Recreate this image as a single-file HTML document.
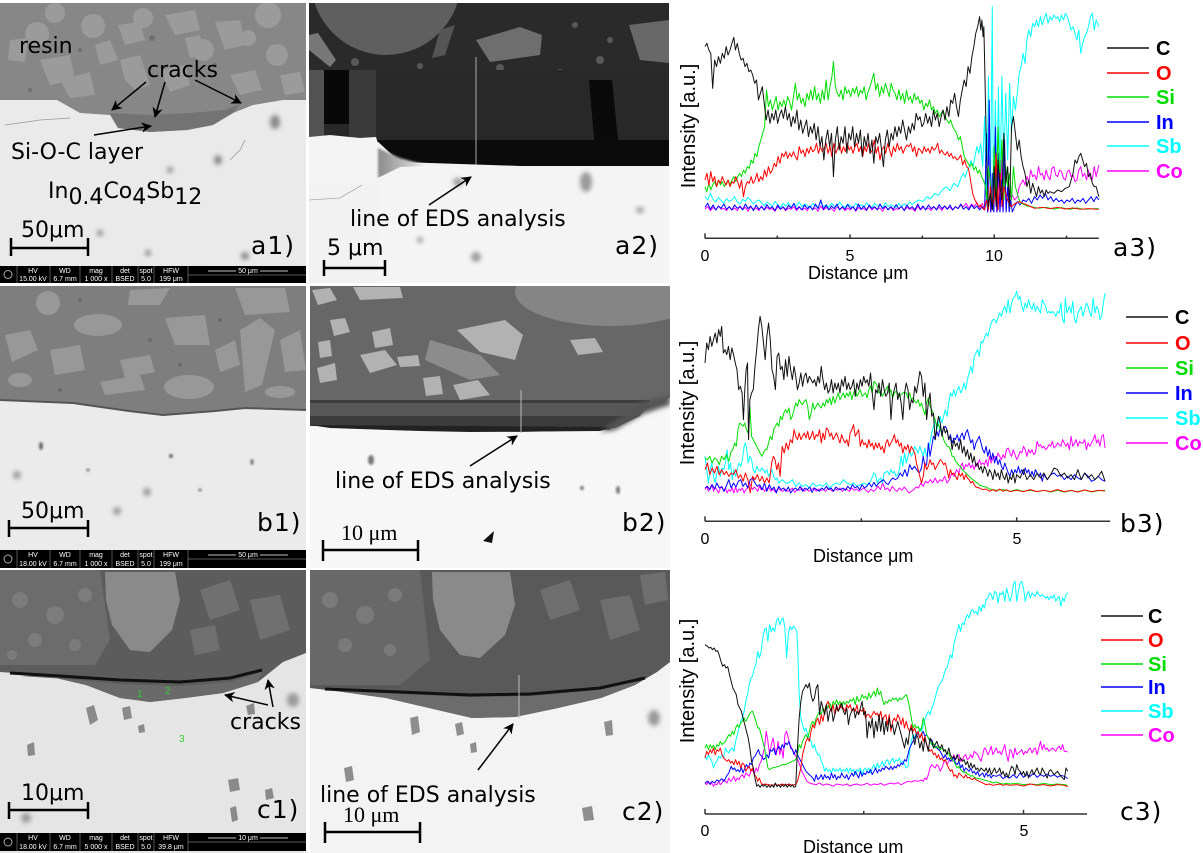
<!DOCTYPE html>
<html><head><meta charset="utf-8"><style>
html,body{margin:0;padding:0;background:#fff;}
svg{display:block;}
.lab{font-family:"DejaVu Sans","Liberation Sans",sans-serif;font-size:22px;fill:#000;}
.pl{font-family:"DejaVu Sans","Liberation Sans",sans-serif;font-size:25px;fill:#000;letter-spacing:1px;}
.ib{font-family:"Liberation Sans",sans-serif;font-size:7px;fill:#fff;text-anchor:middle;}
.ax{font-family:"Liberation Sans",sans-serif;fill:#000;}
.lg{font-family:"Liberation Sans",sans-serif;font-size:20px;font-weight:bold;}
.d{fill:none;stroke-width:1;vector-effect:non-scaling-stroke;stroke-linejoin:round;}
</style></head><body>
<svg width="1203" height="853" viewBox="0 0 1203 853" xmlns="http://www.w3.org/2000/svg">
<defs>
<filter id="bl" x="-50%" y="-50%" width="200%" height="200%"><feGaussianBlur stdDeviation="2.5"/></filter>
<filter id="bl1" x="-50%" y="-50%" width="200%" height="200%"><feGaussianBlur stdDeviation="1"/></filter>
<filter id="bl5" x="-50%" y="-50%" width="200%" height="200%"><feGaussianBlur stdDeviation="5"/></filter>
<linearGradient id="wg" x1="0" y1="0" x2="1" y2="0"><stop offset="0" stop-color="#8a8a8a"/><stop offset="1" stop-color="#e8e8e8"/></linearGradient>
<marker id="ah" viewBox="0 0 10 10" refX="9" refY="5" markerWidth="7" markerHeight="7" orient="auto-start-reverse"><path d="M0,0 L10,5 L0,10 L3,5 z" fill="#000"/></marker>
<clipPath id="ca1"><rect x="0" y="3" width="306" height="280"/></clipPath>
<clipPath id="ca2"><rect x="309" y="3" width="360" height="280"/></clipPath>
<clipPath id="cb1"><rect x="0" y="286" width="306" height="282"/></clipPath>
<clipPath id="cb2"><rect x="310" y="286" width="360" height="282"/></clipPath>
<clipPath id="cc1"><rect x="0" y="570" width="306" height="283"/></clipPath>
<clipPath id="cc2"><rect x="310" y="570" width="360" height="283"/></clipPath>
</defs>
<rect width="1203" height="853" fill="#fff"/>

<!-- ============ a1 ============ -->
<g clip-path="url(#ca1)">
<rect x="0" y="0" width="306" height="283" fill="#eaeaea"/>
<polygon points="0,0 306,0 306,100 283,100 253,105 233,113 213,125 187,130 150,132 118,128 110,115 80,113 57,100 0,100" fill="#878787"/>
<polygon points="110,113 150,115 190,113 225,110 240,104 233,113 213,125 187,130 150,132 118,128" fill="#737373"/>
<g fill="#9b9b9b">
<circle cx="55" cy="13" r="10"/><circle cx="93" cy="26" r="12"/><circle cx="37" cy="34" r="12"/>
<circle cx="203" cy="50" r="11"/><circle cx="277" cy="55" r="11"/><circle cx="268" cy="15" r="13"/>
<circle cx="143" cy="18" r="10"/><circle cx="248" cy="38" r="8"/>
<polygon points="118,25 140,22 145,40 125,45"/><polygon points="165,15 195,10 200,30 175,35"/>
<polygon points="215,22 240,20 245,45 225,50"/><polygon points="40,60 70,55 75,80 50,85"/>
<polygon points="120,60 140,55 150,85 135,90 125,80"/><polygon points="60,80 90,72 95,95 70,98"/>
<polygon points="160,70 185,65 190,85 170,92"/><polygon points="230,75 255,70 262,90 240,95"/>
<polygon points="280,75 300,72 305,92 285,95"/><polygon points="10,40 28,38 25,62 8,60"/>
<polygon points="95,45 110,40 118,60 100,65"/><polygon points="185,38 200,35 205,55 190,58"/>
</g>
<g fill="#6f6f6f"><circle cx="152" cy="38" r="3"/><circle cx="80" cy="50" r="2"/><circle cx="215" cy="65" r="2"/><circle cx="30" cy="90" r="2"/></g>
<g fill="#888" filter="url(#bl)"><ellipse cx="275" cy="122" rx="5" ry="7"/><ellipse cx="218" cy="160" rx="4" ry="5"/><ellipse cx="148" cy="253" rx="3" ry="3"/><ellipse cx="245" cy="256" rx="4" ry="4"/><ellipse cx="100" cy="233" rx="3" ry="3"/><ellipse cx="170" cy="170" rx="3" ry="3"/></g>
<polyline points="5,125 40,120 70,118" fill="none" stroke="#999" stroke-width="0.8"/>
<polyline points="230,160 240,150 245,140" fill="none" stroke="#999" stroke-width="0.8"/>
</g>
<text class="lab" x="19" y="53">resin</text>
<text class="lab" x="147" y="77">cracks</text>
<text class="lab" x="11" y="159">Si-O-C layer</text>
<text class="lab" x="48" y="198">In<tspan dy="6">0.4</tspan><tspan dy="-6">Co</tspan><tspan dy="6">4</tspan><tspan dy="-6">Sb</tspan><tspan dy="6">12</tspan></text>
<g stroke="#000" stroke-width="1.5" fill="none" marker-end="url(#ah)">
<line x1="146" y1="82" x2="112" y2="110"/>
<line x1="165" y1="82" x2="155" y2="117"/>
<line x1="195" y1="80" x2="241" y2="103"/>
<line x1="94" y1="135" x2="151" y2="126"/>
</g>
<text class="lab" x="21" y="237">50μm</text>
<g stroke="#000" stroke-width="2.5"><line x1="11" y1="248" x2="88" y2="248"/><line x1="11" y1="238" x2="11" y2="256"/><line x1="88" y1="238" x2="88" y2="256"/></g>
<text class="pl" x="251" y="254">a1)</text>
<!-- info bar a1 -->
<g>
<rect x="0" y="266" width="306" height="17" fill="#000"/>
<g stroke="#777" stroke-width="0.7"><line x1="17" y1="266" x2="17" y2="283"/><line x1="50" y1="266" x2="50" y2="283"/><line x1="80" y1="266" x2="80" y2="283"/><line x1="112" y1="266" x2="112" y2="283"/><line x1="138" y1="266" x2="138" y2="283"/><line x1="154" y1="266" x2="154" y2="283"/><line x1="188" y1="266" x2="188" y2="283"/><line x1="188" y1="275" x2="306" y2="275"/></g>
<circle cx="8" cy="274.5" r="4" fill="none" stroke="#aaa" stroke-width="1"/>
<text class="ib" x="33" y="273">HV</text><text class="ib" x="33" y="281">15.00 kV</text>
<text class="ib" x="65" y="273">WD</text><text class="ib" x="65" y="281">6.7 mm</text>
<text class="ib" x="96" y="273">mag</text><text class="ib" x="96" y="281">1 000 x</text>
<text class="ib" x="125" y="273">det</text><text class="ib" x="125" y="281">BSED</text>
<text class="ib" x="146" y="273">spot</text><text class="ib" x="146" y="281">5.0</text>
<text class="ib" x="171" y="273">HFW</text><text class="ib" x="171" y="281">199 μm</text>
<line x1="208" y1="271" x2="288" y2="271" stroke="#fff" stroke-width="0.8"/><rect x="236" y="267" width="24" height="7" fill="#000"/><text class="ib" x="248" y="273">50 μm</text>
</g>

<!-- ============ a2 ============ -->
<g clip-path="url(#ca2)">
<rect x="309" y="0" width="360" height="283" fill="#f2f2f2"/>
<rect x="309" y="0" width="360" height="72" fill="#2a2a2a"/>
<circle cx="386" cy="-20" r="75" fill="#5f5f5f"/>
<polygon points="476,40 520,27 542,35 540,55 490,62" fill="#6e6e6e"/>
<polygon points="629,25 669,20 669,63 640,60" fill="#686868"/>
<polygon points="309,35 318,33 336,60 330,67 309,50" fill="#777"/>
<polygon points="440,30 455,25 445,55 432,58" fill="#555"/>
<g fill="#585858"><circle cx="500" cy="68" r="4"/><circle cx="560" cy="72" r="3"/><circle cx="600" cy="60" r="4"/><circle cx="355" cy="62" r="4"/><circle cx="420" cy="66" r="3"/><circle cx="575" cy="25" r="3"/><circle cx="610" cy="40" r="3"/></g>
<rect x="309" y="70" width="360" height="72" fill="#282828"/>
<rect x="309" y="70" width="15" height="70" fill="#525252"/>
<rect x="349" y="70" width="27" height="68" fill="#3a3a3a"/>
<rect x="324" y="70" width="25" height="54" fill="#080808"/>
<polygon points="589,80 612,80 619,150 595,150" fill="#0a0a0a"/>
<polygon points="376,140 669,140 669,166 520,166 460,164 400,162" fill="#0b0b0b"/>
<polygon points="309,137 330,135 360,138 376,137 380,150 378,183 309,183" fill="#f4f4f4"/>
<polygon points="378,148 400,158 425,165 378,178" fill="url(#wg)" filter="url(#bl1)"/>
<polygon points="378,178 400,167 460,165 520,166 669,166 669,283 378,283" fill="#f4f4f4"/>
<g fill="#9a9a9a" filter="url(#bl)"><ellipse cx="458" cy="182" rx="5" ry="4"/><ellipse cx="586" cy="182" rx="6" ry="10"/><ellipse cx="476" cy="257" rx="5" ry="5"/><ellipse cx="420" cy="240" rx="3" ry="3"/><ellipse cx="640" cy="210" rx="4" ry="3"/></g>
<polyline points="309,200 340,198 362,185" fill="none" stroke="#aaa" stroke-width="0.8"/>
<line x1="476" y1="57" x2="476" y2="165" stroke="#aaa" stroke-width="1"/>
</g>
<text class="lab" x="350" y="226">line of EDS analysis</text>
<line x1="429" y1="205" x2="471" y2="177" stroke="#000" stroke-width="1.5" marker-end="url(#ah)"/>
<text class="lab" x="327" y="255">5 μm</text>
<g stroke="#000" stroke-width="2.5"><line x1="324" y1="268" x2="385" y2="268"/><line x1="324" y1="260" x2="324" y2="276"/><line x1="385" y1="260" x2="385" y2="276"/></g>
<text class="pl" x="615" y="254">a2)</text>

<!-- ============ b1 ============ -->
<g clip-path="url(#cb1)">
<rect x="0" y="286" width="306" height="282" fill="#ebebeb"/>
<polygon points="0,286 306,286 306,410 245,408 215,411 163,415 129,411 73,403 0,400" fill="#7e7e7e"/>
<g fill="#989898">
<ellipse cx="98" cy="325" rx="24" ry="11"/><ellipse cx="189" cy="387" rx="25" ry="12"/><ellipse cx="48" cy="303" rx="12" ry="12"/>
<polygon points="240,330 260,318 275,330 262,385 245,392"/><polygon points="165,318 205,315 210,345 175,345"/>
<polygon points="235,288 285,288 290,312 245,315"/><polygon points="5,335 30,330 38,350 12,362"/>
<polygon points="50,350 80,345 85,370 55,375"/><polygon points="120,360 150,355 155,372 125,378"/>
<polygon points="100,382 140,375 145,390 105,395"/><polygon points="280,340 300,330 306,370 285,372"/>
<polygon points="130,290 170,288 160,305 128,305"/><polygon points="215,350 235,340 240,365 220,372"/>
<ellipse cx="280" cy="392" rx="15" ry="6"/><ellipse cx="20" cy="380" rx="12" ry="7"/>
</g>
<g fill="#6a6a6a"><circle cx="80" cy="300" r="2"/><circle cx="150" cy="340" r="2"/><circle cx="220" cy="320" r="2"/><circle cx="60" cy="390" r="2"/><circle cx="180" cy="365" r="2"/></g>
<polyline points="0,400 73,403 129,411 163,415 215,411 245,408 306,410" fill="none" stroke="#555" stroke-width="2"/>
<g fill="#666" filter="url(#bl1)"><ellipse cx="41" cy="446" rx="2" ry="4"/><ellipse cx="171" cy="456" rx="2" ry="2"/><ellipse cx="252" cy="462" rx="1.5" ry="3"/><ellipse cx="88" cy="470" rx="1.5" ry="1.5"/><ellipse cx="200" cy="490" rx="1.5" ry="1.5"/></g>
<g fill="#999" filter="url(#bl)"><ellipse cx="17" cy="475" rx="4" ry="4"/><ellipse cx="147" cy="492" rx="4" ry="4"/><ellipse cx="117" cy="511" rx="4" ry="4"/></g>
</g>
<text class="lab" x="21" y="518">50μm</text>
<g stroke="#000" stroke-width="2.5"><line x1="9" y1="528" x2="88" y2="528"/><line x1="9" y1="520" x2="9" y2="537"/><line x1="88" y1="520" x2="88" y2="537"/></g>
<text class="pl" x="257" y="531">b1)</text>
<g>
<rect x="0" y="550" width="306" height="18" fill="#000"/>
<g stroke="#777" stroke-width="0.7"><line x1="17" y1="550" x2="17" y2="568"/><line x1="50" y1="550" x2="50" y2="568"/><line x1="80" y1="550" x2="80" y2="568"/><line x1="112" y1="550" x2="112" y2="568"/><line x1="138" y1="550" x2="138" y2="568"/><line x1="154" y1="550" x2="154" y2="568"/><line x1="188" y1="550" x2="188" y2="568"/><line x1="188" y1="559" x2="306" y2="559"/></g>
<circle cx="8" cy="559" r="4" fill="none" stroke="#aaa" stroke-width="1"/>
<text class="ib" x="33" y="557">HV</text><text class="ib" x="33" y="566">18.00 kV</text>
<text class="ib" x="65" y="557">WD</text><text class="ib" x="65" y="566">6.7 mm</text>
<text class="ib" x="96" y="557">mag</text><text class="ib" x="96" y="566">1 000 x</text>
<text class="ib" x="125" y="557">det</text><text class="ib" x="125" y="566">BSED</text>
<text class="ib" x="146" y="557">spot</text><text class="ib" x="146" y="566">5.0</text>
<text class="ib" x="171" y="557">HFW</text><text class="ib" x="171" y="566">199 μm</text>
<line x1="208" y1="555" x2="288" y2="555" stroke="#fff" stroke-width="0.8"/><rect x="236" y="551" width="24" height="7" fill="#000"/><text class="ib" x="248" y="557">50 μm</text>
</g>

<!-- ============ b2 ============ -->
<g clip-path="url(#cb2)">
<rect x="310" y="286" width="360" height="282" fill="#f7f7f7"/>
<polygon points="310,286 670,286 670,398 643,410 627,416 610,430 560,431 520,432 470,431 420,430 370,428 330,425 310,424" fill="#676767"/>
<ellipse cx="610" cy="292" rx="95" ry="34" fill="#858585"/>
<g fill="#b2b2b2">
<polygon points="312,290 330,288 337,300 318,305"/><polygon points="353,287 400,287 403,298 360,300"/>
<polygon points="457,330 505,320 523,335 515,360 480,352"/><polygon points="360,355 385,350 397,365 370,373"/>
<polygon points="317,368 335,363 337,380 320,383"/><polygon points="423,378 440,376 443,394 426,396"/>
<polygon points="453,385 478,380 490,395 460,400"/><polygon points="570,340 595,338 603,352 578,355"/>
<polygon points="397,357 418,355 420,366 400,367"/><polygon points="330,320 345,318 350,332 334,336"/>
<polygon points="372,332 390,328 393,345 375,348"/><polygon points="318,342 330,340 332,356 320,358"/>
</g>
<polygon points="430,340 480,355 500,375 470,380 425,360" fill="#8c8c8c"/>
<rect x="310" y="400" width="340" height="3" fill="#3d3d3d"/>
<polygon points="310,403 650,403 640,416 310,416" fill="#575757"/>
<polygon points="310,416 640,416 615,428 310,426" fill="#3c3c3c"/>
<polygon points="310,425 615,427 600,431 470,432 420,431 330,428" fill="#222"/>
<polygon points="640,403 670,395 670,405 643,414 615,430 600,432" fill="#555" filter="url(#bl)"/>
<line x1="521" y1="390" x2="521" y2="433" stroke="#bbb" stroke-width="1"/>
<polygon points="483,541 494,531 492,543" fill="#111"/>
<g fill="#777" filter="url(#bl1)"><ellipse cx="371" cy="460" rx="3" ry="5"/><ellipse cx="618" cy="490" rx="2" ry="4"/><ellipse cx="582" cy="488" rx="2" ry="2"/></g>
</g>
<text class="lab" x="335" y="488">line of EDS analysis</text>
<line x1="470" y1="466" x2="517" y2="436" stroke="#000" stroke-width="1.5" marker-end="url(#ah)"/>
<text x="341" y="540" style="font-family:'Liberation Serif',serif;font-size:22px;">10 μm</text>
<g stroke="#000" stroke-width="2.5"><line x1="323" y1="550" x2="418" y2="550"/><line x1="323" y1="540" x2="323" y2="561"/><line x1="418" y1="540" x2="418" y2="561"/></g>
<text class="pl" x="622" y="531">b2)</text>

<!-- ============ c1 ============ -->
<g clip-path="url(#cc1)">
<rect x="0" y="570" width="306" height="283" fill="#e5e5e5"/>
<polygon points="0,570 306,570 306,653 283,662 258,682 223,693 185,698 150,702 120,698 86,685 43,675 0,672" fill="#5c5c5c"/>
<polygon points="0,570 100,570 110,640 95,665 0,665" fill="#6c6c6c"/>
<g fill="#7c7c7c"><circle cx="20" cy="600" r="8"/><circle cx="55" cy="615" r="9"/><circle cx="35" cy="640" r="7"/><circle cx="75" cy="645" r="6"/><circle cx="85" cy="595" r="7"/><circle cx="12" cy="655" r="5"/></g>
<polygon points="105,572 175,572 180,600 172,630 150,652 130,650 112,625 106,600" fill="#8a8a8a"/>
<g fill="#707070"><polygon points="200,590 230,580 240,610 210,620"/><polygon points="250,600 280,595 290,630 260,640"/><polygon points="190,630 215,625 220,650 195,655"/></g>
<polygon points="20,676 80,680 120,684 180,686 230,682 262,672 258,682 223,693 185,698 150,702 120,698 86,685 43,675" fill="#6a6a6a"/>
<polyline points="10,673 60,676 120,680 180,682 230,678 262,670" fill="none" stroke="#111" stroke-width="3"/>
<g fill="#8a8a8a"><polygon points="86,708 94,705 98,720 90,725"/><polygon points="122,708 130,706 132,718 124,720"/><polygon points="27,745 34,742 35,755 28,756"/><polygon points="228,780 238,778 240,790 230,792"/><polygon points="138,726 144,724 145,732 139,733"/><polygon points="246,706 254,703 255,714 248,715"/><polygon points="265,790 272,788 274,798 266,800"/><polygon points="230,808 236,806 238,820 232,822"/></g>
<g fill="#999" filter="url(#bl)"><ellipse cx="293" cy="700" rx="6" ry="7"/><ellipse cx="26" cy="818" rx="5" ry="5"/></g>
</g>
<text x="137" y="697" style="font-family:'Liberation Sans',sans-serif;font-size:10px;fill:#33cc33;">1</text>
<text x="165" y="694" style="font-family:'Liberation Sans',sans-serif;font-size:10px;fill:#33cc33;">2</text>
<text x="179" y="742" style="font-family:'Liberation Sans',sans-serif;font-size:10px;fill:#33cc33;">3</text>
<text class="lab" x="230" y="729">cracks</text>
<g stroke="#000" stroke-width="1.5" fill="none" marker-end="url(#ah)">
<line x1="268" y1="705" x2="225" y2="695"/>
<line x1="273" y1="707" x2="268" y2="680"/>
</g>
<text class="lab" x="21" y="800">10μm</text>
<g stroke="#000" stroke-width="2.5"><line x1="9" y1="810" x2="88" y2="810"/><line x1="9" y1="802" x2="9" y2="819"/><line x1="88" y1="802" x2="88" y2="819"/></g>
<text class="pl" x="257" y="818">c1)</text>
<g>
<rect x="0" y="833" width="306" height="18" fill="#000"/>
<g stroke="#777" stroke-width="0.7"><line x1="17" y1="833" x2="17" y2="851"/><line x1="50" y1="833" x2="50" y2="851"/><line x1="80" y1="833" x2="80" y2="851"/><line x1="112" y1="833" x2="112" y2="851"/><line x1="138" y1="833" x2="138" y2="851"/><line x1="154" y1="833" x2="154" y2="851"/><line x1="188" y1="833" x2="188" y2="851"/><line x1="188" y1="842" x2="306" y2="842"/></g>
<circle cx="8" cy="842" r="4" fill="none" stroke="#aaa" stroke-width="1"/>
<text class="ib" x="33" y="840">HV</text><text class="ib" x="33" y="849">18.00 kV</text>
<text class="ib" x="65" y="840">WD</text><text class="ib" x="65" y="849">6.7 mm</text>
<text class="ib" x="96" y="840">mag</text><text class="ib" x="96" y="849">5 000 x</text>
<text class="ib" x="125" y="840">det</text><text class="ib" x="125" y="849">BSED</text>
<text class="ib" x="146" y="840">spot</text><text class="ib" x="146" y="849">5.0</text>
<text class="ib" x="171" y="840">HFW</text><text class="ib" x="171" y="849">39.8 μm</text>
<line x1="208" y1="838" x2="288" y2="838" stroke="#fff" stroke-width="0.8"/><rect x="236" y="834" width="24" height="7" fill="#000"/><text class="ib" x="248" y="840">10 μm</text>
</g>

<!-- ============ c2 ============ -->
<g clip-path="url(#cc2)">
<rect x="310" y="570" width="360" height="283" fill="#f3f3f3"/>
<polygon points="310,570 670,570 670,662 657,672 635,685 601,698 558,708 515,717 472,718 429,708 386,698 343,692 310,688" fill="#595959"/>
<polygon points="310,570 420,570 430,660 400,685 310,685" fill="#686868"/>
<g fill="#7a7a7a"><circle cx="330" cy="600" r="8"/><circle cx="365" cy="615" r="9"/><circle cx="345" cy="645" r="7"/><circle cx="390" cy="650" r="6"/><circle cx="395" cy="595" r="7"/></g>
<polygon points="432,572 510,572 515,605 505,635 480,658 460,655 440,630 433,600" fill="#8a8a8a"/>
<g fill="#6e6e6e"><polygon points="540,590 570,580 580,610 550,620"/><polygon points="600,600 630,595 640,630 610,640"/><polygon points="640,575 665,572 668,600 645,605"/></g>
<polygon points="330,690 400,694 470,697 530,696 600,690 640,680 635,685 601,698 558,708 515,717 472,718 429,708 386,698 343,692" fill="#6c6c6c"/>
<polyline points="325,689 400,692 470,695 530,694 600,688 645,678" fill="none" stroke="#111" stroke-width="3"/>
<line x1="519" y1="675" x2="519" y2="718" stroke="#bbb" stroke-width="1"/>
<g fill="#8e8e8e"><polygon points="410,718 418,716 420,732 412,735"/><polygon points="455,724 462,722 464,734 457,736"/><polygon points="344,768 352,766 354,780 346,782"/><polygon points="604,722 612,720 613,735 606,736"/><polygon points="582,808 592,806 594,820 584,821"/><polygon points="470,744 476,742 477,752 471,753"/></g>
<g fill="#999" filter="url(#bl)"><ellipse cx="654" cy="718" rx="6" ry="8"/></g>
</g>
<text class="lab" x="320" y="802">line of EDS analysis</text>
<line x1="478" y1="770" x2="513" y2="724" stroke="#000" stroke-width="1.5" marker-end="url(#ah)"/>
<text x="343" y="822" style="font-family:'Liberation Serif',serif;font-size:22px;">10 μm</text>
<g stroke="#000" stroke-width="2.5"><line x1="325" y1="832" x2="420" y2="832"/><line x1="325" y1="822" x2="325" y2="843"/><line x1="420" y1="822" x2="420" y2="843"/></g>
<text class="pl" x="622" y="820">c2)</text>

<!-- ============ a3 plot ============ -->
<g transform="translate(600,0) scale(0.3846,0.3333)">
<polyline class="d" stroke="#ff00ff" points="273,628 280,620 287,632 294,622 301,630 308,618 315,628 322,625 329,632 336,620 343,630 350,624 357,632 364,618 371,628 378,622 385,634 392,620 399,628 406,624 413,632 420,618 427,630 434,622 441,628 448,626 455,634 462,620 469,628 476,622 483,632 490,624 497,628 504,620 511,632 518,622 525,630 532,625 539,632 546,620 553,628 560,624 567,634 574,618 581,630 588,622 595,628 602,626 609,634 616,620 623,628 630,622 637,632 644,624 651,630 658,620 665,634 672,622 679,628 686,626 693,632 700,618 707,630 714,622 721,628 728,624 735,634 742,620 749,628 756,622 763,632 770,626 777,628 784,618 791,632 798,622 805,628 812,626 819,634 826,618 833,630 840,622 847,628 854,624 861,632 868,620 875,628 882,622 889,632 896,618 903,626 910,622 917,630 924,620 931,626 938,615 945,620 952,610 959,625 966,612 973,620 980,608 987,625 994,610 1000,630 1004,500 1008,636 1012,470 1016,636 1020,540 1024,636 1028,490 1032,636 1036,520 1040,636 1044,480 1048,636 1052,510 1056,630 1060,560 1065,600 1070,580 1078,600 1085,590 1090,560 1100,540 1105,555 1110,530 1115,545 1120,510 1125,530 1130,525 1135,540 1140,500 1145,525 1150,520 1155,540 1160,510 1165,530 1170,540 1175,505 1180,500 1185,525 1190,530 1195,510 1200,515 1205,535 1210,540 1215,515 1220,510 1225,530 1230,525 1235,545 1240,540 1245,510 1250,500 1255,530 1260,520 1265,540 1270,510 1275,535 1280,540 1285,500 1290,530 1297,495"/>
<polyline class="d" stroke="#00ffff" points="273,590 280,600 287,580 294,598 301,606 308,592 315,602 322,610 329,596 336,604 343,600 350,590 357,606 364,612 371,598 378,604 385,592 392,602 399,612 406,604 413,600 420,608 427,618 434,606 441,612 448,620 455,604 462,614 469,622 476,610 483,618 490,608 497,622 504,612 511,618 518,606 525,620 532,612 539,616 546,624 553,610 560,618 567,622 574,606 581,620 588,614 595,622 602,610 609,618 616,620 623,606 630,618 637,622 644,612 651,618 658,624 665,610 672,620 679,614 686,622 693,608 700,618 707,622 714,610 721,618 728,616 735,622 742,608 749,620 756,614 763,618 770,622 777,610 784,620 791,612 798,618 805,606 812,614 820,606 830,600 840,605 850,590 860,596 870,580 880,586 890,570 900,560 910,572 920,550 930,560 940,530 945,520 950,532 955,510 960,500 965,482 970,500 975,470 980,440 985,460 990,430 995,500 1000,350 1005,620 1010,230 1015,600 1020,20 1023,630 1028,300 1032,550 1036,260 1040,560 1045,230 1050,500 1055,280 1060,480 1065,250 1070,400 1075,290 1080,330 1085,280 1090,220 1095,200 1100,160 1105,190 1110,120 1115,90 1120,110 1125,70 1130,80 1135,60 1140,80 1145,50 1150,75 1155,55 1160,40 1165,70 1170,50 1175,60 1180,45 1185,55 1190,50 1195,65 1200,45 1205,60 1210,40 1215,50 1220,70 1225,90 1230,80 1235,100 1240,120 1245,90 1250,160 1255,130 1260,110 1265,100 1270,80 1275,50 1280,40 1285,90 1290,60 1297,80"/>
<polyline class="d" stroke="#0000ff" points="273,622 280,610 287,628 294,615 301,630 308,618 315,625 322,612 329,628 336,620 343,630 350,615 357,625 364,620 371,630 378,612 385,626 392,618 399,632 406,615 413,628 420,620 427,630 434,614 441,626 448,620 455,632 462,615 469,628 476,620 483,630 490,616 497,624 504,610 511,628 518,620 525,630 532,615 539,626 546,618 553,630 560,612 567,626 574,600 581,628 588,615 595,630 602,618 609,626 616,612 623,630 630,620 637,628 644,614 651,626 658,620 665,632 672,612 679,628 686,618 693,630 700,615 707,626 714,620 721,630 728,612 735,626 742,618 749,630 756,620 763,628 770,614 777,626 784,620 791,632 798,615 805,626 812,620 819,630 826,612 833,628 840,618 847,630 854,615 861,626 868,620 875,630 882,614 889,626 896,618 903,628 910,615 917,630 924,620 931,626 938,612 945,628 952,620 959,630 966,615 973,626 980,618 987,630 994,620 1000,628 1005,400 1008,636 1012,300 1016,636 1020,520 1024,636 1028,380 1032,636 1036,460 1040,636 1044,540 1048,636 1052,420 1056,636 1060,560 1064,636 1068,600 1072,636 1078,620 1085,605 1092,615 1100,600 1108,605 1115,595 1122,610 1130,590 1137,600 1144,585 1151,595 1158,580 1165,600 1172,590 1179,605 1186,595 1193,605 1200,600 1207,610 1214,600 1221,605 1228,595 1235,610 1242,600 1249,605 1256,595 1263,610 1270,600 1277,590 1284,605 1291,590 1297,600"/>
<polyline class="d" stroke="#00dd00" points="273,560 278,575 283,550 288,570 293,555 298,545 303,560 308,540 313,555 318,545 323,560 328,550 333,540 338,555 343,540 348,530 353,545 358,530 363,520 368,530 373,510 378,520 383,500 388,505 393,480 398,490 403,460 408,470 413,440 418,420 423,400 428,380 433,270 438,320 443,300 448,330 453,310 458,290 463,330 468,305 473,320 478,300 483,320 488,290 493,305 498,330 503,290 508,250 513,300 518,280 523,310 528,295 533,320 538,280 543,300 548,270 553,300 558,260 563,300 568,280 573,310 578,270 583,300 588,240 593,300 598,260 603,230 607,185 612,260 617,280 622,290 627,270 632,300 637,260 642,280 647,270 652,290 657,265 662,280 667,260 672,290 677,270 682,280 687,260 692,300 697,275 702,260 707,240 712,220 717,270 722,250 727,290 732,260 737,280 742,250 747,270 752,290 757,250 762,270 767,280 772,300 777,270 782,300 787,280 792,310 797,270 802,300 807,290 812,310 817,280 822,300 827,290 832,310 837,300 842,330 847,310 852,320 857,300 862,330 867,320 872,340 877,330 882,350 887,340 892,330 897,350 902,360 907,370 912,360 917,380 922,390 927,400 932,420 937,410 942,440 947,470 952,480 957,490 962,500 967,490 972,510 977,500 982,520 987,510 992,530 997,540 1002,560 1006,600 1010,500 1015,550 1020,630 1025,440 1030,600 1035,380 1040,560 1045,420 1050,600 1055,500 1060,560 1065,520 1070,600 1075,500 1080,560 1085,580 1090,600 1095,610 1100,612 1110,618 1120,620 1130,622 1140,625 1160,622 1180,627 1200,623 1220,628 1240,624 1260,628 1297,625"/>
<polyline class="d" stroke="#ff0000" points="273,540 278,520 283,555 288,515 293,545 298,530 303,560 308,540 313,550 318,530 323,545 328,555 333,540 338,560 343,545 348,550 353,530 358,545 363,565 368,540 373,590 378,560 383,545 388,550 393,530 398,550 403,540 408,520 413,545 418,530 423,540 428,510 433,530 438,500 443,520 448,510 453,490 458,500 463,470 468,490 473,460 478,470 483,455 488,475 493,460 498,470 503,455 508,470 513,480 518,440 523,460 528,450 533,470 538,445 543,460 548,440 553,455 558,450 563,430 568,460 573,440 578,455 583,445 588,430 593,460 598,440 603,470 608,430 613,460 618,445 623,430 628,460 633,440 638,455 643,430 648,450 653,440 658,460 663,440 668,430 673,455 678,440 683,470 688,440 693,455 698,430 703,460 708,450 713,420 718,460 723,440 728,480 733,450 738,440 743,460 748,430 753,450 758,470 763,440 768,455 773,430 778,450 783,440 788,460 793,445 798,435 803,440 808,430 813,455 818,440 823,470 828,445 833,450 838,460 843,440 848,455 853,445 858,460 863,440 868,450 873,445 878,430 883,460 888,450 893,460 898,465 903,455 908,470 913,460 918,475 923,470 928,480 933,475 938,465 943,495 948,480 953,500 958,505 962,530 966,560 970,585 975,600 980,610 985,620 990,615 995,625 1000,630 1005,600 1010,630 1015,560 1020,620 1025,600 1030,460 1035,630 1040,520 1045,620 1050,560 1060,600 1070,620 1080,610 1090,605 1100,610 1110,615 1120,620 1130,625 1150,622 1170,626 1190,622 1210,627 1230,624 1250,628 1270,626 1297,628"/>
<polyline class="d" stroke="#111" points="273,140 278,130 283,150 288,160 293,265 298,180 303,200 308,170 313,190 318,160 323,175 328,140 333,165 338,150 343,130 348,112 352,150 357,130 362,160 367,180 372,175 377,200 382,190 387,215 392,210 397,225 402,250 407,240 412,300 417,280 422,260 427,310 432,360 437,330 442,370 447,340 452,360 457,330 462,370 467,345 472,330 477,355 482,320 487,360 492,340 497,380 502,350 507,370 512,330 517,390 522,360 527,400 532,380 537,360 542,410 547,380 552,400 557,370 562,420 567,380 572,440 577,410 582,480 587,420 592,390 597,440 602,400 607,530 612,420 617,380 622,450 627,410 632,430 637,380 642,460 647,400 652,420 657,380 662,440 667,400 672,430 677,390 682,470 687,410 692,440 697,400 702,460 707,420 712,490 717,410 722,430 727,400 732,450 737,500 742,420 747,390 752,440 757,400 762,420 767,380 772,410 777,380 782,400 787,360 792,390 797,420 802,380 807,400 812,370 817,390 822,340 827,360 832,350 837,380 842,370 847,340 852,370 857,350 862,380 867,330 872,360 877,340 882,380 887,350 892,330 897,360 902,320 907,350 912,300 917,310 922,280 927,320 932,350 937,300 942,270 947,240 952,260 957,200 962,220 967,170 972,140 977,100 982,80 987,50 990,90 993,60 996,110 998,80 1000,180 1003,350 1006,500 1010,620 1015,580 1020,630 1025,500 1030,620 1035,480 1040,560 1045,600 1050,400 1055,550 1060,500 1065,620 1070,380 1075,350 1080,400 1085,450 1090,420 1095,470 1100,500 1105,520 1110,560 1115,540 1120,580 1125,550 1130,570 1135,590 1140,560 1145,580 1150,570 1155,590 1160,570 1165,580 1170,575 1180,580 1190,570 1200,575 1210,565 1220,560 1230,520 1235,480 1240,490 1245,470 1250,460 1255,480 1260,500 1265,490 1270,530 1275,520 1280,550 1285,560 1290,560 1297,590"/>
<g stroke="#333" stroke-width="1.5">
<line x1="273" y1="715" x2="1297" y2="715" vector-effect="non-scaling-stroke"/>
<line x1="273" y1="715" x2="273" y2="700" vector-effect="non-scaling-stroke"/>
<line x1="650" y1="715" x2="650" y2="703" vector-effect="non-scaling-stroke"/>
<line x1="1025" y1="715" x2="1025" y2="703" vector-effect="non-scaling-stroke"/>
<line x1="461" y1="715" x2="461" y2="707" vector-effect="non-scaling-stroke"/>
<line x1="838" y1="715" x2="838" y2="707" vector-effect="non-scaling-stroke"/>
<line x1="1213" y1="715" x2="1213" y2="707" vector-effect="non-scaling-stroke"/>
</g>
</g>
<g class="ax" font-size="16" text-anchor="middle"><text x="705" y="261">0</text><text x="850" y="261">5</text><text x="994" y="261">10</text></g>
<text class="ax" x="808" y="279" font-size="18">Distance  μm</text>
<text class="ax" font-size="20" transform="translate(695,126) rotate(-90)" text-anchor="middle">Intensity [a.u.]</text>
<g stroke-width="1.5">
<line x1="1107" y1="48" x2="1149" y2="48" stroke="#111"/><line x1="1107" y1="73" x2="1149" y2="73" stroke="#f00"/><line x1="1107" y1="97" x2="1149" y2="97" stroke="#0d0"/><line x1="1107" y1="122" x2="1149" y2="122" stroke="#00f"/><line x1="1107" y1="146" x2="1149" y2="146" stroke="#0ff"/><line x1="1107" y1="171" x2="1149" y2="171" stroke="#f0f"/>
</g>
<g class="lg"><text x="1156" y="55" fill="#000">C</text><text x="1156" y="80" fill="#f00">O</text><text x="1156" y="104" fill="#0d0">Si</text><text x="1156" y="129" fill="#00f">In</text><text x="1156" y="153" fill="#0ff">Sb</text><text x="1156" y="178" fill="#f0f">Co</text></g>
<text class="pl" x="1113" y="256">a3)</text>

<!-- ============ b3 plot ============ -->
<g transform="translate(670,283) scale(0.3399,0.3333)">
<polyline class="d" stroke="#ff00ff" points="103,620 108,610 113,625 118,615 123,605 128,625 133,615 138,620 143,630 148,615 153,610 158,625 163,615 168,630 173,620 178,625 183,615 188,630 193,612 198,628 203,618 208,622 213,615 218,630 223,620 228,615 233,600 238,610 243,620 248,612 253,618 258,625 263,610 268,620 273,615 278,625 283,618 290,612 297,625 304,618 311,628 318,615 325,622 332,625 339,618 346,625 353,622 360,615 367,628 374,620 381,622 388,615 395,625 402,618 409,625 416,620 423,615 430,625 437,618 444,622 451,620 458,625 465,615 472,620 479,625 486,618 493,622 500,615 507,625 514,618 521,620 528,625 535,615 542,622 549,618 556,625 563,620 570,615 577,622 584,628 591,618 598,625 605,620 612,610 619,620 626,600 633,620 640,615 647,625 654,610 661,620 668,625 675,615 682,622 689,612 696,620 703,630 710,625 717,620 724,612 731,615 738,600 745,610 752,595 759,600 766,590 773,600 780,585 787,600 794,590 801,595 808,580 815,600 822,590 829,570 836,580 843,560 850,570 855,550 860,540 865,560 870,545 875,550 880,540 885,555 890,545 895,560 900,540 905,550 910,530 915,545 920,540 925,545 930,530 935,550 940,520 945,540 950,525 955,520 960,530 965,510 970,520 975,530 980,515 985,525 990,500 995,495 1000,510 1005,520 1010,500 1015,515 1020,530 1025,520 1030,505 1035,510 1040,490 1045,500 1050,520 1055,500 1060,510 1065,500 1070,515 1075,510 1080,475 1085,490 1090,485 1095,495 1100,490 1105,500 1110,495 1115,485 1120,490 1125,475 1130,495 1135,490 1140,480 1145,485 1150,490 1155,470 1160,480 1165,490 1170,480 1175,500 1180,460 1185,490 1190,480 1195,470 1200,490 1205,475 1210,480 1215,480 1220,470 1225,500 1230,480 1235,490 1240,480 1245,470 1250,455 1255,480 1260,470 1265,490 1270,460 1275,455 1280,495"/>
<polyline class="d" stroke="#00ffff" points="103,520 108,560 113,600 118,560 123,540 128,580 133,600 138,570 143,550 148,580 153,555 158,560 163,540 168,500 173,560 178,540 183,590 188,560 193,580 198,560 203,540 208,550 213,530 218,490 222,480 226,500 230,540 235,520 240,530 245,560 250,570 255,550 260,560 265,565 270,555 275,560 280,570 285,560 290,580 295,570 300,560 305,580 310,590 315,585 320,600 330,590 340,600 350,600 360,590 370,610 380,600 390,610 400,605 410,615 420,600 430,610 440,605 450,610 460,600 470,615 480,605 490,600 500,605 510,590 520,600 530,605 540,600 550,610 560,605 570,600 580,605 590,595 600,570 605,575 610,600 615,590 620,585 625,600 630,570 640,565 645,575 650,560 655,570 660,565 665,580 670,575 675,560 680,520 685,550 690,510 695,540 700,520 705,500 710,520 715,510 720,490 725,500 730,510 735,490 740,505 745,520 750,495 755,520 760,500 765,480 770,450 775,430 780,410 785,440 790,420 795,400 800,420 805,400 810,380 815,400 820,360 825,330 830,340 835,320 840,340 845,320 850,310 855,330 860,320 865,300 870,320 875,290 880,270 885,250 890,270 895,220 900,210 905,200 910,220 915,175 920,180 925,165 930,150 935,160 940,140 945,120 950,110 955,110 960,120 965,105 970,90 975,100 980,80 985,70 990,90 995,50 1000,90 1005,60 1010,45 1015,40 1020,25 1025,50 1030,40 1035,70 1040,85 1045,60 1050,75 1055,50 1060,70 1065,80 1070,60 1075,85 1080,70 1085,80 1090,90 1095,50 1100,60 1105,70 1110,90 1115,85 1120,90 1125,85 1130,90 1135,100 1140,85 1145,90 1150,60 1155,110 1160,120 1163,45 1168,90 1175,70 1180,90 1185,55 1190,110 1195,120 1200,90 1205,80 1210,70 1215,100 1220,80 1225,60 1230,70 1235,90 1240,100 1245,45 1250,90 1255,70 1260,80 1265,110 1270,100 1275,60 1280,30"/>
<polyline class="d" stroke="#0000ff" points="103,615 110,610 117,620 124,605 131,618 138,600 145,615 152,612 159,625 166,608 173,590 180,615 187,600 194,612 201,595 208,590 215,610 222,600 229,615 236,590 243,585 250,600 257,610 264,605 271,620 278,600 285,625 292,605 299,620 306,612 313,630 320,610 327,620 334,615 341,625 348,612 355,630 362,620 369,615 376,622 383,610 390,625 397,615 404,620 411,612 418,628 425,615 432,620 439,625 446,615 453,620 460,610 467,620 474,615 481,625 488,612 495,618 502,620 509,615 516,622 523,610 530,618 537,605 544,615 551,610 558,620 565,605 572,615 579,610 586,600 593,612 600,598 607,610 614,600 621,595 628,590 635,600 642,605 649,592 656,585 663,590 670,585 677,570 684,580 691,560 698,580 705,545 712,560 719,550 726,560 733,570 740,555 745,520 750,550 755,545 760,480 765,520 770,490 775,460 780,470 785,445 790,460 795,430 800,450 805,435 810,430 815,440 820,470 825,455 830,480 835,465 840,470 845,455 850,475 855,460 860,450 865,470 870,450 875,440 880,460 885,480 890,470 895,500 900,480 905,470 910,460 915,480 920,500 925,510 930,490 935,520 940,500 945,530 950,510 955,540 960,520 965,545 970,530 975,550 980,560 985,540 990,555 995,570 1000,580 1005,560 1010,575 1015,560 1020,570 1025,550 1030,570 1035,560 1040,575 1045,555 1050,570 1055,560 1060,580 1065,565 1070,580 1075,560 1080,570 1085,580 1090,570 1095,595 1100,575 1110,590 1120,575 1130,570 1140,580 1150,575 1160,590 1170,580 1180,590 1190,575 1200,585 1210,590 1220,570 1230,580 1240,595 1250,590 1260,580 1270,590 1280,595"/>
<polyline class="d" stroke="#00dd00" points="103,525 110,530 117,520 124,540 131,525 138,530 145,545 152,520 159,530 166,515 173,535 180,505 185,500 190,480 195,490 200,440 205,420 210,425 215,430 220,420 225,440 230,450 235,370 240,460 245,470 250,480 255,490 260,500 265,510 270,520 275,510 280,500 285,500 290,480 295,460 300,470 305,440 310,430 315,420 320,430 325,400 330,410 335,390 340,380 345,390 350,375 355,410 360,400 365,380 370,360 375,370 380,350 385,360 390,365 395,355 400,350 405,370 410,410 415,390 420,360 425,380 430,370 435,360 440,370 445,375 450,360 455,370 460,350 465,360 470,345 475,365 480,340 485,360 490,345 495,330 500,350 505,340 510,330 515,345 520,330 525,340 530,325 535,350 540,330 545,320 550,340 555,330 560,320 565,340 570,335 575,330 580,345 585,320 590,310 595,330 600,295 605,300 610,310 615,330 620,325 625,340 630,330 635,320 640,310 645,330 650,320 655,345 660,330 665,325 670,330 675,340 680,335 685,330 690,328 695,330 700,345 705,330 710,350 715,345 720,355 725,360 730,350 735,370 740,360 745,380 750,395 755,360 760,345 765,370 770,380 775,395 780,410 785,430 790,425 795,440 800,450 805,470 810,480 815,490 820,490 825,500 830,520 835,520 840,535 845,540 850,548 855,550 860,560 865,565 870,570 875,575 880,580 885,585 890,590 895,592 900,598 905,600 910,606 920,610 930,612 940,618 950,620 960,622 980,620 1000,625 1020,620 1040,625 1060,622 1080,626 1100,622 1120,627 1140,622 1160,627 1180,623 1200,626 1220,621 1240,627 1260,623 1280,622"/>
<polyline class="d" stroke="#ff0000" points="103,560 110,540 117,575 124,555 131,570 138,550 145,575 152,560 159,575 166,565 173,580 180,570 187,575 194,560 201,585 208,575 215,595 222,570 229,590 236,630 243,580 250,590 257,575 264,595 271,580 278,600 285,585 292,600 299,540 304,520 309,530 314,560 319,540 324,580 330,490 336,510 342,480 348,500 354,470 360,480 365,440 370,460 375,470 380,450 385,470 390,460 395,450 400,465 405,445 410,470 415,460 420,445 425,470 430,455 435,460 440,440 445,480 450,450 455,470 460,435 465,440 470,460 475,450 480,470 485,460 490,450 495,465 500,480 505,455 510,470 515,480 520,470 525,490 530,450 535,440 540,425 545,460 550,450 555,440 560,490 565,470 570,485 575,480 580,495 585,470 590,490 595,480 600,500 605,480 610,495 615,480 620,500 625,490 630,510 635,480 640,470 645,490 650,480 655,470 660,455 665,480 670,470 675,490 680,480 685,510 690,490 695,500 700,485 705,510 710,490 715,500 720,510 725,540 730,560 735,580 740,600 745,580 750,540 755,560 760,550 765,530 770,545 775,540 780,560 785,550 790,540 795,530 800,535 805,545 810,540 815,560 820,585 825,560 830,575 835,570 840,580 845,590 850,570 855,580 860,570 865,590 870,575 875,585 880,590 885,600 890,595 895,605 900,612 910,615 920,620 930,618 940,625 950,620 960,625 970,618 980,625 990,620 1000,626 1020,622 1040,626 1060,620 1080,626 1100,622 1120,626 1140,620 1160,626 1180,622 1200,627 1220,621 1240,626 1260,622 1280,624"/>
<polyline class="d" stroke="#111" points="103,240 108,180 113,200 118,160 123,190 128,170 133,150 138,180 143,140 148,160 152,130 157,210 162,200 167,215 172,190 177,230 182,195 187,215 192,240 197,260 202,320 207,310 212,330 216,410 220,320 224,260 228,240 231,470 235,350 240,330 245,320 250,250 255,200 260,140 265,100 270,130 275,180 280,230 285,160 290,120 295,170 300,260 305,280 310,320 315,220 320,210 325,260 330,250 335,290 340,230 345,280 350,220 355,260 360,290 365,250 370,280 375,320 380,300 385,270 390,310 395,280 400,270 405,300 410,280 415,290 420,300 425,290 430,310 435,280 440,300 445,250 450,290 455,320 460,300 465,330 470,320 475,290 480,330 485,300 490,320 495,300 500,330 505,290 510,310 515,280 520,320 525,300 530,320 535,310 540,290 545,340 550,300 555,320 560,290 565,310 570,280 575,300 580,290 585,310 590,270 595,330 600,380 605,320 610,330 615,300 620,340 625,290 630,320 635,340 640,330 645,300 650,410 655,340 660,320 665,300 670,350 675,330 680,360 685,410 690,330 695,300 700,320 705,380 710,350 715,360 720,310 725,330 730,300 735,265 740,280 745,340 750,300 755,410 760,360 765,330 770,400 775,390 780,470 785,430 790,400 795,420 800,460 805,430 810,450 815,440 820,470 825,460 830,500 835,470 840,490 845,480 850,500 855,470 860,510 865,490 870,520 875,500 880,530 885,510 890,540 895,520 900,550 905,540 910,560 915,550 920,570 925,550 930,560 935,580 940,560 945,570 950,590 955,560 960,580 965,570 970,590 975,560 980,580 985,590 990,570 995,600 1000,580 1005,590 1010,570 1015,600 1020,575 1030,585 1040,560 1050,590 1060,575 1070,590 1080,570 1090,585 1100,570 1110,590 1120,575 1130,555 1140,560 1150,580 1160,570 1170,585 1180,575 1190,590 1200,560 1210,590 1220,570 1230,585 1240,575 1250,590 1260,580 1270,565 1280,595"/>
<g stroke="#333" stroke-width="1.5">
<line x1="103" y1="715" x2="1295" y2="715" vector-effect="non-scaling-stroke"/>
<line x1="103" y1="715" x2="103" y2="700" vector-effect="non-scaling-stroke"/>
<line x1="563" y1="715" x2="563" y2="706" vector-effect="non-scaling-stroke"/>
<line x1="1020" y1="715" x2="1020" y2="703" vector-effect="non-scaling-stroke"/>
</g>
</g>
<g class="ax" font-size="16" text-anchor="middle"><text x="705" y="544">0</text><text x="1017" y="544">5</text></g>
<text class="ax" x="813" y="562" font-size="18">Distance  μm</text>
<text class="ax" font-size="20" transform="translate(694,403) rotate(-90)" text-anchor="middle">Intensity [a.u.]</text>
<g stroke-width="1.5">
<line x1="1126" y1="317" x2="1168" y2="317" stroke="#111"/><line x1="1126" y1="343" x2="1168" y2="343" stroke="#f00"/><line x1="1126" y1="368" x2="1168" y2="368" stroke="#0d0"/><line x1="1126" y1="393" x2="1168" y2="393" stroke="#00f"/><line x1="1126" y1="418" x2="1168" y2="418" stroke="#0ff"/><line x1="1126" y1="443" x2="1168" y2="443" stroke="#f0f"/>
</g>
<g class="lg"><text x="1175" y="324" fill="#000">C</text><text x="1175" y="350" fill="#f00">O</text><text x="1175" y="375" fill="#0d0">Si</text><text x="1175" y="400" fill="#00f">In</text><text x="1175" y="425" fill="#0ff">Sb</text><text x="1175" y="450" fill="#f0f">Co</text></g>
<text class="pl" x="1120" y="532">b3)</text>

<!-- ============ c3 plot ============ -->
<g transform="translate(670,568) scale(0.3399,0.3333)">
<polyline class="d" stroke="#ff00ff" points="103,645 108,650 113,640 118,650 123,645 128,655 133,648 138,650 143,640 148,650 153,645 158,635 163,640 168,645 173,630 178,640 183,635 188,625 193,640 198,630 203,635 208,625 213,620 218,630 223,615 228,620 233,625 238,610 243,605 248,620 253,600 258,610 263,590 268,580 273,560 278,540 283,490 288,520 293,560 298,530 303,510 308,540 313,560 318,520 323,560 328,540 333,570 338,500 343,490 348,510 353,530 358,540 363,550 368,560 373,570 378,580 383,595 388,610 393,620 398,630 403,640 410,645 420,648 430,650 440,645 450,652 460,648 470,650 480,655 490,648 500,650 510,652 520,648 530,654 540,650 550,648 560,652 570,650 580,646 590,652 600,648 610,650 620,646 630,652 640,648 650,645 660,648 670,644 680,650 690,645 700,640 710,642 720,638 730,640 740,636 745,640 750,630 755,635 760,620 765,600 770,590 775,595 780,600 785,590 790,595 795,610 800,600 805,585 810,575 815,590 820,580 825,570 830,580 835,560 840,575 845,565 850,560 855,580 860,575 865,565 870,560 875,575 880,570 885,560 890,570 895,550 900,555 905,560 910,570 915,580 920,560 925,540 930,545 935,560 940,550 945,535 950,560 955,550 960,540 965,555 970,550 975,560 980,545 985,530 990,560 995,580 1000,545 1005,550 1010,570 1015,540 1020,560 1025,555 1030,550 1035,545 1040,560 1045,550 1050,555 1055,545 1060,540 1065,555 1070,545 1075,540 1080,560 1085,540 1090,520 1095,545 1100,530 1105,545 1110,540 1115,550 1120,545 1125,540 1130,545 1135,550 1140,540 1145,535 1150,545 1155,530 1160,550 1165,550 1170,552"/>
<polyline class="d" stroke="#00ffff" points="103,560 108,575 113,560 118,570 123,580 128,600 133,585 138,580 143,565 148,570 153,560 158,570 163,540 168,550 173,555 178,545 183,540 188,550 193,520 198,500 203,480 208,460 213,450 218,430 223,400 228,380 233,350 238,330 243,325 248,300 253,290 258,250 263,270 268,250 273,210 278,185 283,180 288,220 293,170 298,190 303,180 308,190 313,160 318,150 323,170 328,155 333,150 338,180 343,270 348,200 353,175 358,185 363,175 368,180 373,190 376,250 380,380 385,450 390,470 395,490 400,480 405,500 410,510 415,520 420,540 425,530 430,550 435,560 440,560 445,580 450,590 455,610 460,600 465,610 470,605 475,615 480,600 485,610 490,605 495,610 500,600 505,612 510,605 515,610 520,600 525,615 530,600 535,610 540,605 545,620 550,605 555,610 560,600 565,620 570,605 575,600 580,610 585,600 590,615 595,600 600,590 605,605 610,585 615,600 620,590 625,580 630,595 635,580 640,575 645,590 650,580 655,570 660,585 665,575 670,580 675,570 680,585 685,580 690,590 695,600 700,595 705,550 710,520 715,500 720,510 725,490 730,500 735,480 740,490 745,470 750,455 755,440 760,430 765,440 770,420 775,410 780,390 785,370 790,355 795,345 800,340 805,325 810,305 815,300 820,280 825,260 830,270 835,230 840,210 845,190 850,170 855,190 860,165 865,170 870,150 875,140 880,150 885,130 890,125 895,135 900,130 905,140 910,115 915,130 920,110 925,120 930,95 935,90 940,75 945,80 950,95 955,70 960,75 965,105 970,75 975,80 980,70 985,100 990,60 995,80 1000,100 1005,85 1010,50 1015,40 1020,100 1025,70 1030,45 1035,40 1040,60 1045,100 1050,80 1055,70 1060,90 1065,75 1070,80 1075,85 1080,70 1085,80 1090,85 1095,80 1100,85 1105,90 1110,85 1115,95 1120,85 1125,90 1130,80 1135,100 1140,90 1145,85 1150,115 1155,90 1160,100 1165,80 1170,75"/>
<polyline class="d" stroke="#0000ff" points="103,645 110,640 117,648 124,640 131,645 138,636 145,640 152,632 159,640 166,625 173,615 180,595 185,605 190,600 195,610 200,605 205,612 210,598 215,615 220,600 225,590 230,600 235,585 240,590 245,570 250,565 255,555 260,545 265,560 270,565 275,575 280,570 285,560 290,570 295,545 300,550 305,540 310,560 315,545 320,535 325,545 330,530 335,540 340,525 345,530 350,520 355,540 360,545 365,560 370,545 375,560 380,570 385,580 390,590 395,600 400,610 405,615 410,620 415,625 420,630 425,640 430,620 435,635 440,630 445,620 450,635 455,620 460,630 465,625 470,635 475,615 480,630 485,620 490,635 495,625 500,630 505,615 510,625 515,630 520,620 525,635 530,625 535,615 540,625 545,610 550,620 555,630 560,610 565,625 570,615 575,620 580,610 585,615 590,605 595,620 600,610 605,600 610,615 615,605 620,610 625,600 630,605 635,595 640,600 645,605 650,595 655,605 660,595 665,600 670,590 675,595 680,585 685,590 690,575 695,580 700,560 705,540 710,530 715,520 720,510 725,500 730,495 735,510 740,500 745,490 750,505 755,500 760,510 765,520 770,515 775,530 780,535 785,540 790,545 795,550 800,560 805,570 810,560 815,575 820,570 825,580 830,575 835,570 840,585 845,590 850,580 855,600 860,590 865,610 870,600 875,605 880,610 885,600 890,615 895,610 900,620 905,610 910,625 915,620 920,615 925,628 930,615 935,625 940,620 945,630 950,622 960,625 970,620 980,632 990,625 1000,630 1010,620 1020,630 1030,615 1040,628 1050,620 1060,625 1070,615 1080,628 1090,620 1100,625 1110,618 1120,625 1130,620 1140,628 1150,622 1160,625 1170,632"/>
<polyline class="d" stroke="#00dd00" points="103,540 108,530 113,545 118,530 123,540 128,532 133,545 138,530 143,535 148,520 153,530 158,525 163,520 168,510 173,500 178,505 183,490 188,500 193,480 198,470 203,478 208,465 213,460 218,450 223,460 228,450 233,440 238,432 243,430 248,445 253,460 258,480 263,480 268,500 273,520 278,540 283,570 288,600 293,605 300,600 310,598 320,595 330,590 340,590 350,585 360,580 370,575 375,560 380,530 385,540 390,520 395,510 400,500 405,510 410,490 415,470 420,460 425,470 430,450 435,440 440,430 445,440 450,420 455,430 460,410 465,420 470,405 475,420 480,400 485,410 490,395 495,410 500,400 505,420 510,400 515,410 520,400 525,405 530,395 535,400 540,390 545,410 550,385 555,400 560,395 565,380 570,390 575,385 580,395 585,375 590,390 595,380 600,370 605,385 610,360 615,380 620,370 625,395 630,410 635,400 640,405 645,395 650,400 655,390 660,395 665,390 670,400 675,390 680,395 685,390 690,385 695,380 700,395 705,420 710,450 715,480 720,470 725,480 730,475 735,490 740,480 745,450 750,470 755,500 760,510 765,520 770,530 775,525 780,540 785,535 790,540 795,545 800,540 805,545 810,550 815,560 820,555 825,570 830,575 835,580 840,590 845,600 850,595 855,605 860,610 865,615 870,612 875,618 880,620 885,625 890,622 895,628 900,630 910,632 920,635 930,638 940,640 950,645 960,642 970,646 980,648 990,646 1000,648 1020,646 1040,650 1060,648 1080,650 1100,646 1120,650 1140,648 1160,650 1170,652"/>
<polyline class="d" stroke="#ff0000" points="103,570 108,550 113,560 118,545 123,555 128,540 133,560 138,545 143,550 148,540 153,560 158,570 163,575 168,580 173,575 178,585 183,580 188,590 193,575 198,590 203,580 208,600 213,585 218,590 223,610 228,600 233,595 238,610 243,600 248,620 253,625 258,640 263,630 268,645 273,650 280,648 290,650 300,652 310,650 320,652 330,648 340,652 350,648 360,652 370,648 375,640 380,620 385,600 390,560 395,540 400,520 405,510 410,520 415,490 420,470 425,480 430,460 435,450 440,470 445,440 450,460 455,430 460,410 465,400 470,420 475,430 480,410 485,440 490,420 495,430 500,410 505,420 510,420 515,430 520,410 525,420 530,410 535,430 540,420 545,430 550,410 555,440 560,425 565,430 570,420 575,450 580,440 585,440 590,450 595,440 600,430 605,440 610,435 615,450 620,430 625,460 630,445 635,440 640,470 645,440 650,490 655,460 660,450 665,460 670,440 675,450 680,470 685,450 690,480 695,460 700,480 705,490 710,470 715,490 720,480 725,500 730,490 735,510 740,495 745,520 750,505 755,530 760,540 765,550 770,545 775,560 780,555 785,570 790,560 795,575 800,570 805,580 810,575 815,590 820,600 825,610 830,605 835,625 840,620 845,630 850,615 855,620 860,625 865,630 870,620 875,630 880,628 885,632 890,635 895,630 900,635 910,640 920,645 930,650 940,648 950,652 960,650 970,648 980,652 990,650 1000,652 1020,650 1040,654 1060,648 1080,652 1100,650 1120,654 1140,650 1160,652 1170,656"/>
<polyline class="d" stroke="#111" points="103,230 110,235 115,240 120,238 125,245 130,240 135,250 140,248 145,262 150,280 155,295 160,290 165,300 170,296 175,320 180,340 185,360 190,370 195,380 200,410 205,420 210,430 215,450 220,470 225,490 230,510 235,540 240,580 245,600 250,630 255,655 260,650 265,658 270,650 275,655 280,650 285,658 290,652 295,658 300,650 305,658 310,645 315,656 320,650 325,658 330,650 335,656 340,648 345,658 350,650 355,656 360,650 365,658 370,655 375,540 380,450 385,400 390,370 395,360 400,350 405,360 410,345 415,380 420,400 425,390 430,360 435,350 440,440 445,400 450,420 455,440 460,410 465,460 470,430 475,420 480,460 485,440 490,410 495,430 500,420 505,405 510,430 515,440 520,420 525,470 530,440 535,430 540,420 545,450 550,430 555,440 560,420 565,400 570,440 575,430 580,510 585,460 590,480 595,450 600,510 605,460 610,490 615,440 620,490 625,450 630,500 635,460 640,490 645,450 650,480 655,470 660,500 665,480 670,460 675,480 680,500 685,520 690,540 695,510 700,530 705,490 710,480 715,500 720,530 725,500 730,510 735,540 740,520 745,550 750,510 755,530 760,550 765,510 770,520 775,540 780,530 785,520 790,535 795,540 800,530 805,550 810,545 815,560 820,540 825,560 830,570 835,565 840,575 845,560 850,580 855,570 860,580 865,575 870,590 875,580 880,600 885,585 890,600 895,590 900,605 905,600 910,610 915,600 920,605 925,610 930,600 935,615 940,600 945,620 950,610 955,600 960,615 965,610 970,600 975,620 980,610 985,625 990,615 995,630 1000,610 1005,595 1010,600 1015,620 1020,590 1025,605 1030,610 1035,620 1040,610 1045,625 1050,610 1055,630 1060,615 1065,605 1070,620 1075,610 1080,600 1085,615 1090,620 1095,600 1100,610 1105,620 1110,630 1115,610 1120,605 1130,620 1140,610 1150,625 1160,635 1165,600 1170,610"/>
<g stroke="#333" stroke-width="1.5">
<line x1="103" y1="738" x2="1227" y2="738" vector-effect="non-scaling-stroke"/>
<line x1="103" y1="738" x2="103" y2="723" vector-effect="non-scaling-stroke"/>
<line x1="570" y1="738" x2="570" y2="729" vector-effect="non-scaling-stroke"/>
<line x1="1040" y1="738" x2="1040" y2="726" vector-effect="non-scaling-stroke"/>
</g>
</g>
<g class="ax" font-size="16" text-anchor="middle"><text x="705" y="836">0</text><text x="1024" y="836">5</text></g>
<text class="ax" x="803" y="853" font-size="18">Distance  μm</text>
<text class="ax" font-size="20" transform="translate(694,681) rotate(-90)" text-anchor="middle">Intensity [a.u.]</text>
<g stroke-width="1.5">
<line x1="1101" y1="616" x2="1143" y2="616" stroke="#111"/><line x1="1101" y1="640" x2="1143" y2="640" stroke="#f00"/><line x1="1101" y1="664" x2="1143" y2="664" stroke="#0d0"/><line x1="1101" y1="687" x2="1143" y2="687" stroke="#00f"/><line x1="1101" y1="711" x2="1143" y2="711" stroke="#0ff"/><line x1="1101" y1="735" x2="1143" y2="735" stroke="#f0f"/>
</g>
<g class="lg"><text x="1148" y="623" fill="#000">C</text><text x="1148" y="647" fill="#f00">O</text><text x="1148" y="671" fill="#0d0">Si</text><text x="1148" y="694" fill="#00f">In</text><text x="1148" y="718" fill="#0ff">Sb</text><text x="1148" y="742" fill="#f0f">Co</text></g>
<text class="pl" x="1120" y="820">c3)</text>
</svg>
</body></html>
